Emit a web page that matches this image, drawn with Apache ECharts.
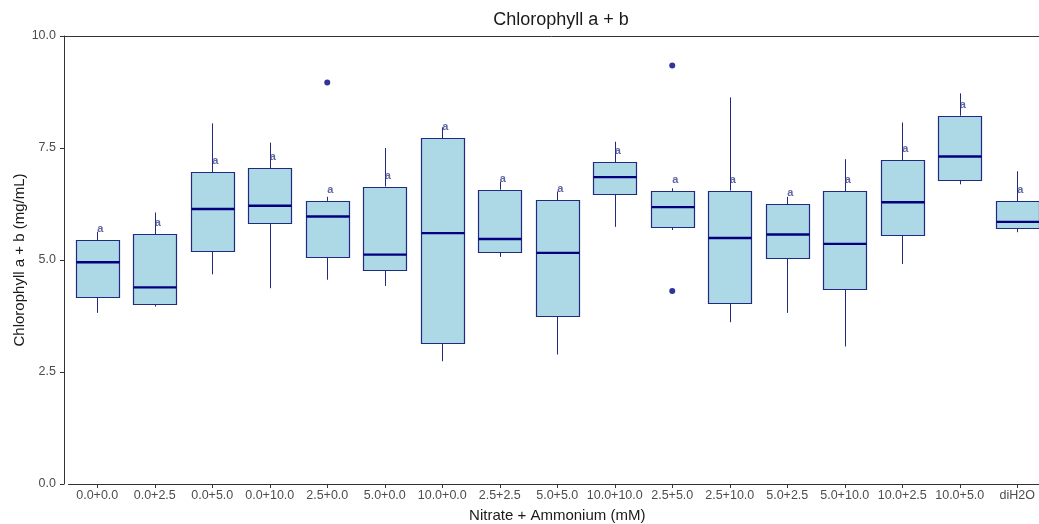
<!DOCTYPE html>
<html>
<head>
<meta charset="utf-8">
<script src="https://cdn.jsdelivr.net/npm/echarts@6/dist/echarts.min.js"></script>
<style>html,body{margin:0;padding:0;background:#fff}#c{width:1039px;height:524px}</style>
</head>
<body>
<div id="c"></div>
<script>
const categories = ['0.0+0.0','0.0+2.5','0.0+5.0','0.0+10.0','2.5+0.0','5.0+0.0','10.0+0.0','2.5+2.5','5.0+5.0','10.0+10.0','2.5+5.0','2.5+10.0','5.0+2.5','5.0+10.0','10.0+2.5','10.0+5.0','diH2O'];
const whiskerLow = [3.82,3.96,4.68,4.37,4.56,4.42,2.74,5.07,2.89,5.74,5.67,3.61,3.82,3.07,4.91,6.69,5.62];
const q1         = [4.18,4.02,5.20,5.82,5.06,4.78,3.15,5.18,3.74,6.47,5.74,4.05,5.04,4.35,5.56,6.79,5.72];
const median     = [4.95,4.39,6.14,6.21,5.97,5.12,5.60,5.47,5.16,6.85,6.18,5.49,5.57,5.36,6.29,7.31,5.85];
const q3         = [5.44,5.58,6.96,7.05,6.32,6.64,7.72,6.57,6.33,7.18,6.53,6.55,6.24,6.53,7.23,8.22,6.31];
const whiskerHigh= [5.63,6.06,8.05,7.62,6.41,7.50,7.96,6.75,6.53,7.64,6.60,8.63,6.41,7.25,8.07,8.72,6.98];
const outliers = [[4,8.96],[10,9.34],[10,4.31]];
const groupLetters = ['a','a','a','a','a','a','a','a','a','a','a','a','a','a','a','a','a'];
const yTicks = [0, 2.5, 5, 7.5, 10];

const boxData = categories.map((c,i)=>[i, whiskerLow[i], q1[i], median[i], q3[i], whiskerHigh[i]]);
const letterData = categories.map((c,i)=>({value:[i, q3[i]], name: groupLetters[i]}));

const chart = echarts.init(document.getElementById('c'), null, {renderer:'canvas'});
const FONT = '"Liberation Sans", Arial, sans-serif';
const gridLeft = 68.5, gridWidth = 977.5;

chart.setOption({
  animation:false,
  backgroundColor:'#fff',
  title:{text:'Chlorophyll a + b', left:556, textAlign:'center', top:6,
    textStyle:{fontFamily:FONT, fontSize:18, fontWeight:'normal', color:'#1a1a1a'}},
  grid:{left:gridLeft, top:36, width:gridWidth, height:448, containLabel:false, outerBoundsMode:'none'},
  xAxis:{type:'category', data:categories, boundaryGap:true,
    name:'Nitrate + Ammonium (mM)', nameLocation:'middle', nameGap:24, nameMoveOverlap:false,
    nameTextStyle:{fontFamily:FONT, fontSize:15, color:'#1a1a1a'},
    axisLine:{show:true, lineStyle:{color:'#333', width:1}},
    axisTick:{show:true, alignWithLabel:true, length:4, lineStyle:{color:'#333'}},
    axisLabel:{fontFamily:FONT, fontSize:12.5, color:'#4d4d4d', margin:5, interval:0},
    splitLine:{show:false}},
  yAxis:{type:'value', min:Math.min(...yTicks), max:Math.max(...yTicks), interval:yTicks[1]-yTicks[0], offset:gridLeft-64,
    name:'Chlorophyll a + b (mg/mL)', nameLocation:'middle', nameGap:37, nameMoveOverlap:false,
    nameTextStyle:{fontFamily:FONT, fontSize:15, color:'#1a1a1a'},
    axisLine:{show:true, lineStyle:{color:'#333', width:1}},
    axisTick:{show:true, length:4, lineStyle:{color:'#333'}},
    axisLabel:{fontFamily:FONT, fontSize:12.5, color:'#4d4d4d', margin:8,
      formatter:v=>v.toFixed(1)},
    splitLine:{show:false}},
  graphic:[{type:'line', shape:{x1:64, y1:36.5, x2:1039, y2:36.5}, style:{stroke:'#333', lineWidth:1}, z:100}],
  series:[
    {type:'custom', data:boxData, encode:{x:0, y:[1,2,3,4,5]}, z:2,
      renderItem:function(params, api){
        const x = api.value(0);
        const bw = api.size([1,0])[0]*0.75;
        const cx = api.coord([x,0])[0];
        const yLo = api.coord([x, api.value(1)])[1];
        const yQ1 = api.coord([x, api.value(2)])[1];
        const yMd = api.coord([x, api.value(3)])[1];
        const yQ3 = api.coord([x, api.value(4)])[1];
        const yHi = api.coord([x, api.value(5)])[1];
        const px = Math.round(cx)+0.5;
        const stroke = '#202a80';
        return {type:'group', children:[
          {type:'line', shape:{x1:px, y1:yHi, x2:px, y2:yQ3}, style:{stroke:stroke, lineWidth:1}},
          {type:'line', shape:{x1:px, y1:yQ1, x2:px, y2:yLo}, style:{stroke:stroke, lineWidth:1}},
          {type:'rect', shape:{x:Math.round(cx-bw/2)+0.5, y:Math.round(yQ3)+0.5, width:Math.round(bw), height:Math.round(yQ1)-Math.round(yQ3)},
            style:{fill:'#ADD8E6', stroke:stroke, lineWidth:1.2}},
          {type:'line', shape:{x1:Math.round(cx-bw/2)+0.5, y1:yMd, x2:Math.round(cx-bw/2)+0.5+Math.round(bw), y2:yMd},
            style:{stroke:'#00007f', lineWidth:2.4}}
        ]};
      }},
    {type:'scatter', data:outliers, symbol:'circle', symbolSize:6, z:3,
      itemStyle:{color:'#00007f'}},
    {type:'scatter', data:letterData, symbolSize:1, z:4,
      itemStyle:{color:'rgba(0,0,0,0)'},
      label:{show:true, position:'top', distance:5, offset:[3,0], formatter:p=>p.name,
        fontFamily:FONT, fontSize:11, fontWeight:'bold', color:'#38408a'}}
  ]
});
</script>
</body>
</html>
